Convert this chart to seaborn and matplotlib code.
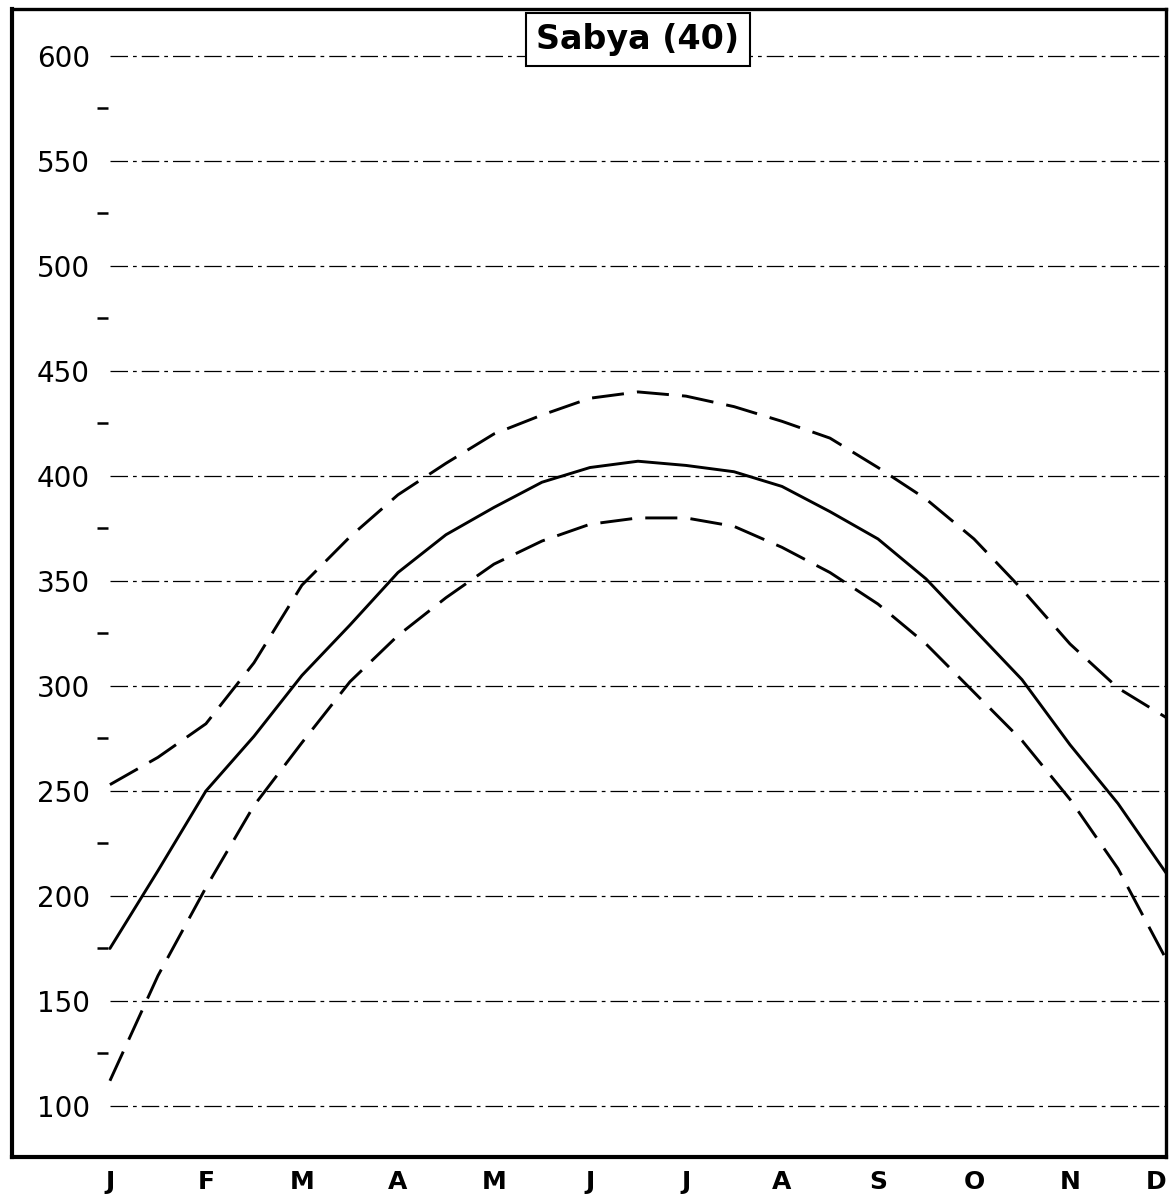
import numpy as np
import pandas as pd
import matplotlib
matplotlib.use("Agg")
import matplotlib.pyplot as plt
import seaborn as sns

# values at every month and half month (J = 0 ... D = 11)
month_labels = ["J", "F", "M", "A", "M", "J", "J", "A", "S", "O", "N", "D"]
month_pos = [0, 0.5, 1, 1.5, 2, 2.5, 3, 3.5, 4, 4.5, 5, 5.5,
             6, 6.5, 7, 7.5, 8, 8.5, 9, 9.5, 10, 10.5, 11]
upper = [253, 266, 282, 311, 348, 371, 391, 406, 420, 429, 437, 440,
         438, 433, 426, 418, 404, 389, 370, 346, 320, 299, 285]
mean = [175, 212, 250, 276, 305, 329, 354, 372, 385, 397, 404, 407,
        405, 402, 395, 383, 370, 351, 327, 303, 272, 244, 211]
lower = [112, 162, 204, 243, 273, 302, 324, 342, 358, 369, 377, 380,
         380, 376, 366, 354, 339, 320, 297, 274, 246, 213, 170]

major_ticks = [100, 150, 200, 250, 300, 350, 400, 450, 500, 550, 600]
minor_ticks = [125, 175, 225, 275, 325, 375, 425, 475, 525, 575]
title = "Sabya (40)"

sns.set_theme(style="white")
plt.rcParams["font.family"] = ["DejaVu Sans"]
plt.rcParams["text.color"] = "black"
plt.rcParams["xtick.color"] = "black"
plt.rcParams["ytick.color"] = "black"

n = len(month_pos)
df = pd.DataFrame({
    "m": month_pos * 3,
    "v": upper + mean + lower,
    "series": ["upper"] * n + ["mean"] * n + ["lower"] * n,
})

fig = plt.figure(figsize=(11.76, 11.96), dpi=100)
ax = fig.add_axes([0.0102, 0.0326, 0.9813, 0.96])

# dash-dot horizontal grid, drawn from J to D only
ax.hlines(major_ticks, 0, 11, colors="black", linewidth=0.9,
          linestyles=[(0, (14, 4, 3, 4))], zorder=1)

sns.lineplot(data=df, x="m", y="v", style="series",
             dashes={"upper": (11, 4.5), "mean": "", "lower": (11, 4.5)},
             color="black", linewidth=2.1, legend=False, ax=ax, zorder=3)

ax.set_xlim(-1.02, 11)
ax.set_ylim(75.7, 622.4)
ax.set_xlabel("")
ax.set_ylabel("")

ax.set_xticks(range(12))
ax.set_xticklabels(month_labels, fontsize=18, fontweight="bold")
ax.tick_params(axis="x", length=0, pad=9)
ax.get_xticklabels()[-1].set_horizontalalignment("right")

ax.set_yticks(major_ticks)
ax.set_yticklabels([str(t) for t in major_ticks], fontsize=20)
ax.tick_params(axis="y", length=0, pad=-56)

# short minor tick dashes inside the frame
ax.hlines(minor_ticks, 0.074, 0.083, transform=ax.get_yaxis_transform(),
          colors="black", linewidth=1.8)

for side in ["left", "bottom"]:
    ax.spines[side].set_linewidth(3.0)
for side in ["right", "top"]:
    ax.spines[side].set_linewidth(2.4)
for sp in ax.spines.values():
    sp.set_color("black")

ax.text(0.5425, 0.9735, title, transform=ax.transAxes, ha="center", va="center",
        fontsize=24, fontweight="bold", zorder=5,
        bbox=dict(boxstyle="square,pad=0.3", fc="white", ec="black", lw=1.5))

fig.savefig("out.png", dpi=100, facecolor="white")
